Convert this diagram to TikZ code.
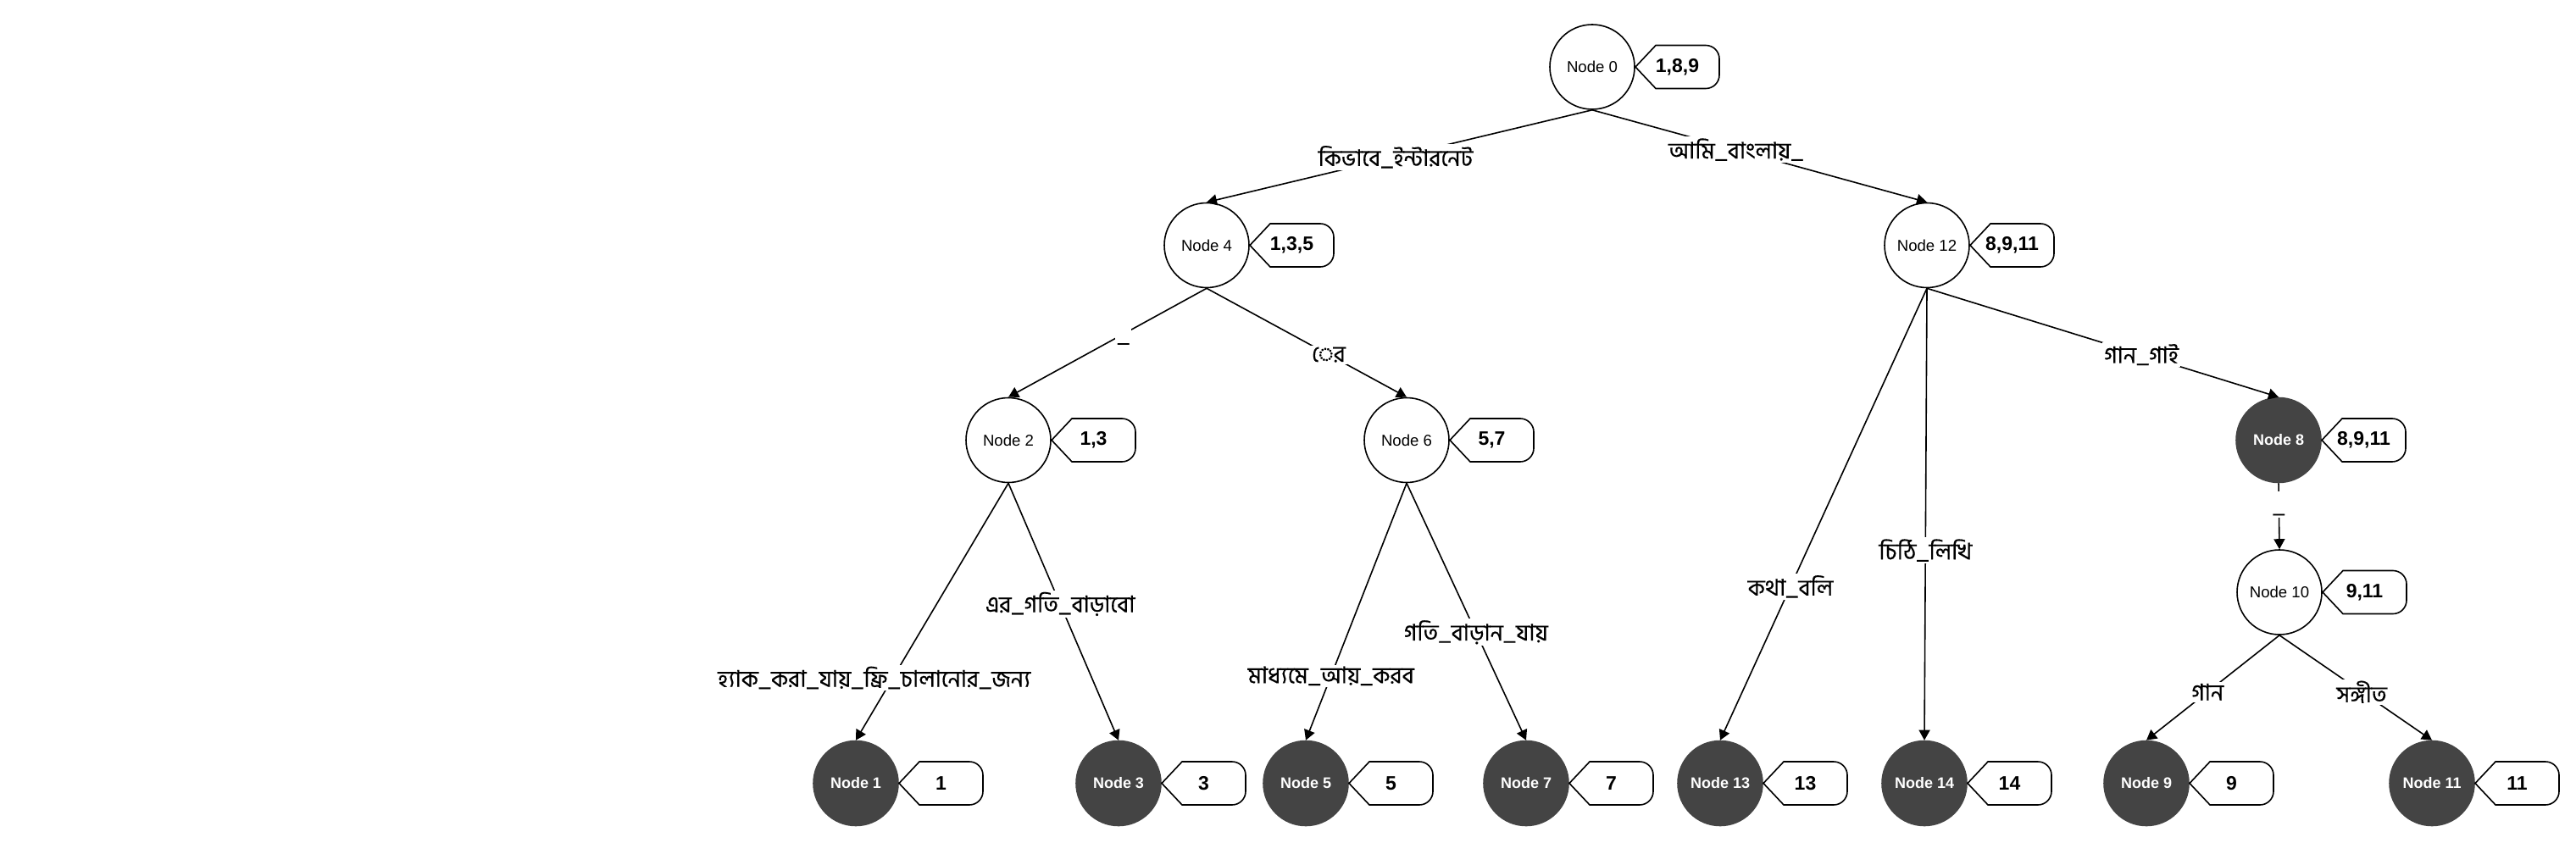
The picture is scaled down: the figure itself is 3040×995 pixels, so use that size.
\documentclass[tikz,border=0pt]{standalone}
\usepackage{fontspec}
\setmainfont{Liberation Sans}
\newfontfamily\bn[Script=Bengali,FakeBold=0.4]{Hind Siliguri}
\usetikzlibrary{arrows.meta,calc}
\definecolor{leaffill}{RGB}{68,68,68}
\tikzset{
 inode/.style={circle, draw=black, line width=0.8pt, fill=white, minimum size=50pt, inner sep=0pt, font=\fontsize{9.3}{10}\selectfont},
 lnode/.style={circle, draw=leaffill, fill=leaffill, line width=0.8pt, minimum size=50pt, inner sep=0pt, text=white, font=\fontsize{9}{10}\selectfont\bfseries},
 tagline/.style={draw=black, line width=0.8pt, fill=white},
 tagtext/.style={font=\fontsize{11.5}{12}\selectfont\bfseries, inner sep=0pt},
 edge/.style={line width=0.8pt, -{Triangle[length=6pt,width=6.5pt]}},
 elabel/.style={fill=white, inner sep=1pt, font=\bn\fontsize{13.5}{15}\selectfont},
}
\newcommand\nodetag[3]{%
  \draw[tagline] ($(#1.center)+(51,0)$) -- ++(24,-25.5) -- ++(59,0)
     arc[start angle=90,end angle=0,radius=8pt] -- ++(0,19)
     arc[start angle=0,end angle=-90,radius=8pt] -- ++(-59,0) -- cycle;
  \node[tagtext] (#2) at ($(#1.center)+(100.5,0)$) {#3};
}
\begin{document}
\begin{tikzpicture}[x=0.5pt,y=-0.5pt]
\useasboundingbox (0,0) rectangle (3040,995);
% nodes
\node[inode] (n0) at (1879,79) {Node 0};
\node[inode] (n4) at (1424,289.5) {Node 4};
\node[inode] (n12) at (2274,289.5) {Node 12};
\node[inode] (n2) at (1190,519.5) {Node 2};
\node[inode] (n6) at (1660,519.5) {Node 6};
\node[lnode] (n8) at (2689,519.5) {Node 8};
\node[inode] (n10) at (2690,699) {Node 10};
\node[lnode] (n1) at (1010,924.5) {Node 1};
\node[lnode] (n3) at (1320,924.5) {Node 3};
\node[lnode] (n5) at (1541,924.5) {Node 5};
\node[lnode] (n7) at (1801,924.5) {Node 7};
\node[lnode] (n13) at (2030,924.5) {Node 13};
\node[lnode] (n14) at (2271,924.5) {Node 14};
\node[lnode] (n9) at (2533,924.5) {Node 9};
\node[lnode] (n11) at (2870,924.5) {Node 11};
% tags
\nodetag{n0}{t0}{1,8,9}
\nodetag{n4}{t4}{1,3,5}
\nodetag{n12}{t12}{8,9,11}
\nodetag{n2}{t2}{1,3}
\nodetag{n6}{t6}{5,7}
\nodetag{n8}{t8}{8,9,11}
\nodetag{n10}{t10}{9,11}
\nodetag{n1}{t1}{1}
\nodetag{n3}{t3}{3}
\nodetag{n5}{t5}{5}
\nodetag{n7}{t7}{7}
\nodetag{n13}{t13}{13}
\nodetag{n14}{t14}{14}
\nodetag{n9}{t9}{9}
\nodetag{n11}{t11}{11}
% edges
\draw[edge] (n0.south) -- node[elabel,pos=0.51] (l04) {কিভাবে\_ইন্টারনেট} (n4.north);
\draw[edge] (n0.south) -- node[elabel,pos=0.43] (l012) {আমি\_বাংলায়\_} (n12.north);
\draw[edge] (n4.south) -- node[elabel,pos=0.42,text height=11pt,text depth=1pt] (l42) {\_} (n2.north);
\draw[edge] (n4.south) -- node[elabel,pos=0.61] (l46) {ের} (n6.north);
\draw[edge] (n2.south) -- node[elabel,pos=0.757,xshift=-11pt] (l21) {হ্যাক\_করা\_যায়\_ফ্রি\_চালানোর\_জন্য} (n1.north);
\draw[edge] (n2.south) -- node[elabel,pos=0.47] (l23) {এর\_গতি\_বাড়াবো} (n3.north);
\draw[edge] (n6.south) -- node[elabel,pos=0.75] (l65) {মাধ্যমে\_আয়\_করব} (n5.north);
\draw[edge] (n6.south) -- node[elabel,pos=0.58] (l67) {গতি\_বাড়ান\_যায়} (n7.north);
\draw[edge] (n12.south) -- node[elabel,pos=0.66] (l1213) {কথা\_বলি} (n13.north);
\draw[edge] (n12.south) -- node[elabel,pos=0.58] (l1214) {চিঠি\_লিখি} (n14.north);
\draw[edge] (n12.south) -- node[elabel,pos=0.61] (l128) {গান\_গাই} (n8.north);
\draw[edge] (n8.south) -- node[elabel,pos=0.32,text height=12pt,text depth=1.5pt] (l810) {\_} (n10.north);
\draw[edge] (n10.south) -- node[elabel,pos=0.54] (l109) {গান} (n9.north);
\draw[edge] (n10.south) -- node[elabel,pos=0.54] (l1011) {সঙ্গীত} (n11.north);
\end{tikzpicture}
\end{document}
